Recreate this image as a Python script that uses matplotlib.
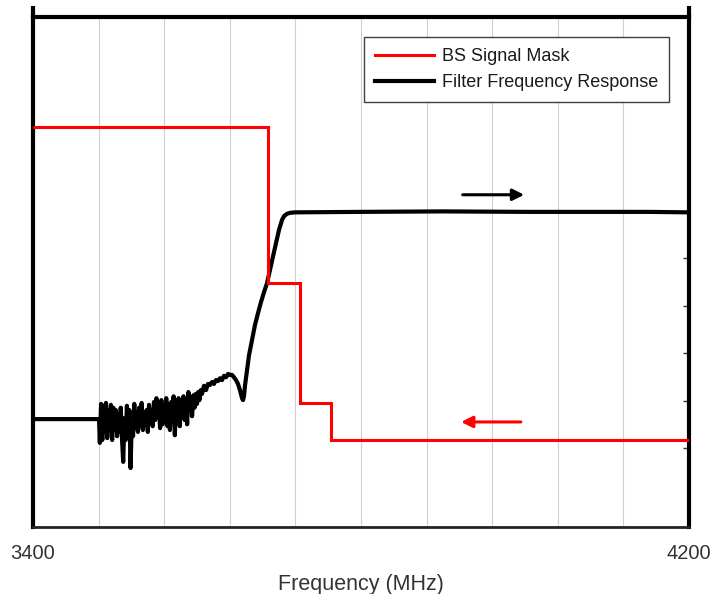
import matplotlib
matplotlib.use("Agg")
import matplotlib.pyplot as plt

plt.rcParams['font.family'] = ['Liberation Sans', 'DejaVu Sans']

# ---------------- data ----------------
x_min, x_max = 3400, 4200
y_min, y_max = -76.6, 30.7
grid_freqs = [3400, 3480, 3560, 3640, 3720, 3800, 3880, 3960, 4040, 4120, 4200]
tick_labels = ['3400', '', '', '', '', '', '', '', '', '', '4200']
right_ticks = [-60, -50, -40, -30, -20]

# BS signal mask (stair edges and levels)
mask_edges = [3400, 3686, 3726, 3764, 4200]
mask_levels = [7.6, -25.3, -50.6, -58.3]

# Filter frequency response
resp_flat_freq = [3400, 3480.5]
resp_flat_level = [-53.9, -53.9]

noise_freq = [3481.5, 3483.0, 3484.5, 3486.0, 3487.5, 3489.0, 3490.5, 3492.0, 3493.5, 3495.0,
              3496.5, 3498.0, 3499.5, 3501.0, 3502.5, 3504.0, 3505.5, 3507.0, 3508.5, 3510.0,
              3511.5, 3513.0, 3514.5, 3516.0, 3517.5, 3519.0, 3520.5, 3522.0, 3523.5, 3525.0,
              3526.5, 3528.0, 3529.5, 3531.0, 3532.5, 3534.0, 3535.5, 3537.0, 3538.5, 3540.0,
              3541.5, 3543.0, 3544.5, 3546.0, 3547.5, 3549.0, 3550.5, 3552.0, 3553.5, 3555.0,
              3556.5, 3558.0, 3559.5, 3561.0, 3562.5, 3564.0, 3565.5, 3567.0, 3568.5, 3570.0,
              3571.5, 3573.0, 3574.5, 3576.0, 3577.5, 3579.0, 3580.5, 3582.0, 3583.5, 3585.0,
              3586.5, 3588.0, 3589.5, 3591.0, 3592.5, 3594.0, 3595.5, 3597.0, 3598.5, 3600.0,
              3601.5, 3603.0, 3604.5]
noise_level = [-58.9, -50.7, -58.3, -51.1, -56.6, -50.5, -57.9, -52.0, -55.8, -50.9,
               -58.3, -51.5, -56.2, -52.0, -57.5, -52.8, -56.6, -51.5, -57.9, -62.9,
               -53.7, -58.3, -51.1, -56.6, -52.0, -64.2, -54.1, -57.5, -50.7, -55.8,
               -52.4, -56.6, -51.5, -55.4, -50.5, -56.2, -52.8, -55.0, -52.0, -56.6,
               -50.9, -54.5, -52.0, -55.4, -50.3, -54.1, -49.5, -53.3, -50.7, -55.8,
               -49.9, -55.0, -51.1, -54.1, -49.5, -55.4, -50.7, -56.2, -50.3, -54.5,
               -49.1, -57.3, -49.9, -53.7, -49.5, -55.4, -49.9, -52.4, -49.1, -54.1,
               -50.3, -55.0, -48.2, -52.0, -49.5, -53.3, -48.9, -51.5, -48.6, -50.7,
               -48.2, -49.9, -47.8]

rise_freq = [3606.1, 3608.5, 3611.0, 3613.4, 3615.9, 3618.3, 3620.7, 3623.2, 3625.6, 3628.0,
             3630.5, 3632.9, 3635.4, 3637.8, 3640.2, 3642.7, 3645.1, 3647.6, 3650.0, 3652.4,
             3654.9, 3656.1, 3657.3, 3658.5, 3661.0, 3663.4, 3667.1, 3670.7, 3674.4, 3678.0,
             3681.7, 3685.4, 3689.0, 3692.7, 3696.3, 3700.0, 3703.7, 3706.1, 3709.8, 3713.4,
             3719.5, 3800, 3900, 4000, 4100, 4150, 4200]
rise_level = [-48.6, -46.9, -47.8, -46.5, -46.7, -46.1, -46.5, -45.7, -45.9, -45.3,
              -45.7, -44.8, -45.1, -44.4, -44.6, -44.6, -45.1, -45.7, -46.5, -47.8,
              -49.5, -49.9, -49.1, -46.9, -43.6, -40.5, -37.3, -34.1, -31.6, -29.3,
              -27.2, -25.3, -22.5, -19.6, -16.9, -14.1, -12.0, -11.2, -10.7, -10.5,
              -10.4, -10.3, -10.2, -10.3, -10.3, -10.3, -10.4]

resp_freq = resp_flat_freq + noise_freq + rise_freq
resp_level = resp_flat_level + noise_level + rise_level

# arrows (start, end)
black_arrow = ((3924, -6.7), (3999, -6.7))
red_arrow = ((3995, -54.5), (3922, -54.5))

# ---------------- figure ----------------
fig = plt.figure(figsize=(7.16, 5.94), dpi=100)
ax = fig.add_axes([33 / 716, 1 - 527 / 594, (689 - 33) / 716, (527 - 17) / 594])

ax.plot(resp_freq, resp_level, color='black', lw=3.0, solid_joinstyle='round',
        label='Filter Frequency Response', zorder=3)
ax.stairs(mask_levels, mask_edges, baseline=None, color='#ff0000', lw=2.2,
          label='BS Signal Mask', zorder=4)

ax.annotate('', xy=black_arrow[1], xytext=black_arrow[0],
            arrowprops=dict(arrowstyle='-|>', color='black', lw=2.2, mutation_scale=17,
                            shrinkA=0, shrinkB=0))
ax.annotate('', xy=red_arrow[1], xytext=red_arrow[0],
            arrowprops=dict(arrowstyle='-|>', color='#ff0000', lw=2.2, mutation_scale=17,
                            shrinkA=0, shrinkB=0))

ax.set_xlim(x_min, x_max)
ax.set_ylim(y_min, y_max)
ax.set_xticks(grid_freqs)
ax.set_xticklabels(tick_labels)
ax.tick_params(axis='x', length=0, pad=12, labelsize=14.5, labelcolor='#333333')
ax.xaxis.grid(True, color='#cfcfcf', lw=0.8)
ax.set_axisbelow(True)

ax.yaxis.tick_right()
ax.set_yticks(right_ticks)
ax.set_yticklabels([])
ax.tick_params(axis='y', direction='in', length=4, width=1, color='#333333')

for side in ['left', 'right', 'top']:
    ax.spines[side].set_linewidth(3)
    ax.spines[side].set_color('black')
ax.spines['bottom'].set_linewidth(2)
ax.spines['bottom'].set_color('#222222')

# vertical frame lines extend a little above the top border
ext = 11 / 510
for xa in (0, 1):
    ax.plot([xa, xa], [1, 1 + ext], transform=ax.transAxes, color='black', lw=3,
            clip_on=False, solid_capstyle='butt')

ax.set_xlabel('Frequency (MHz)', fontsize=15.5, color='#333333', labelpad=8)

h, l = ax.get_legend_handles_labels()
order = [l.index('BS Signal Mask'), l.index('Filter Frequency Response')]
leg = ax.legend([h[i] for i in order], [l[i] for i in order],
                loc='upper right', bbox_to_anchor=(669 / 716, 1 - 37 / 594),
                bbox_transform=fig.transFigure, borderaxespad=0,
                fontsize=13, frameon=True, fancybox=False, framealpha=1,
                edgecolor='#404040', handlelength=3.3, handletextpad=0.4,
                labelspacing=0.5, borderpad=0.62)
leg.get_frame().set_linewidth(1)
for t in leg.get_texts():
    t.set_color('#1a1a1a')

fig.savefig('out.png', dpi=100)
